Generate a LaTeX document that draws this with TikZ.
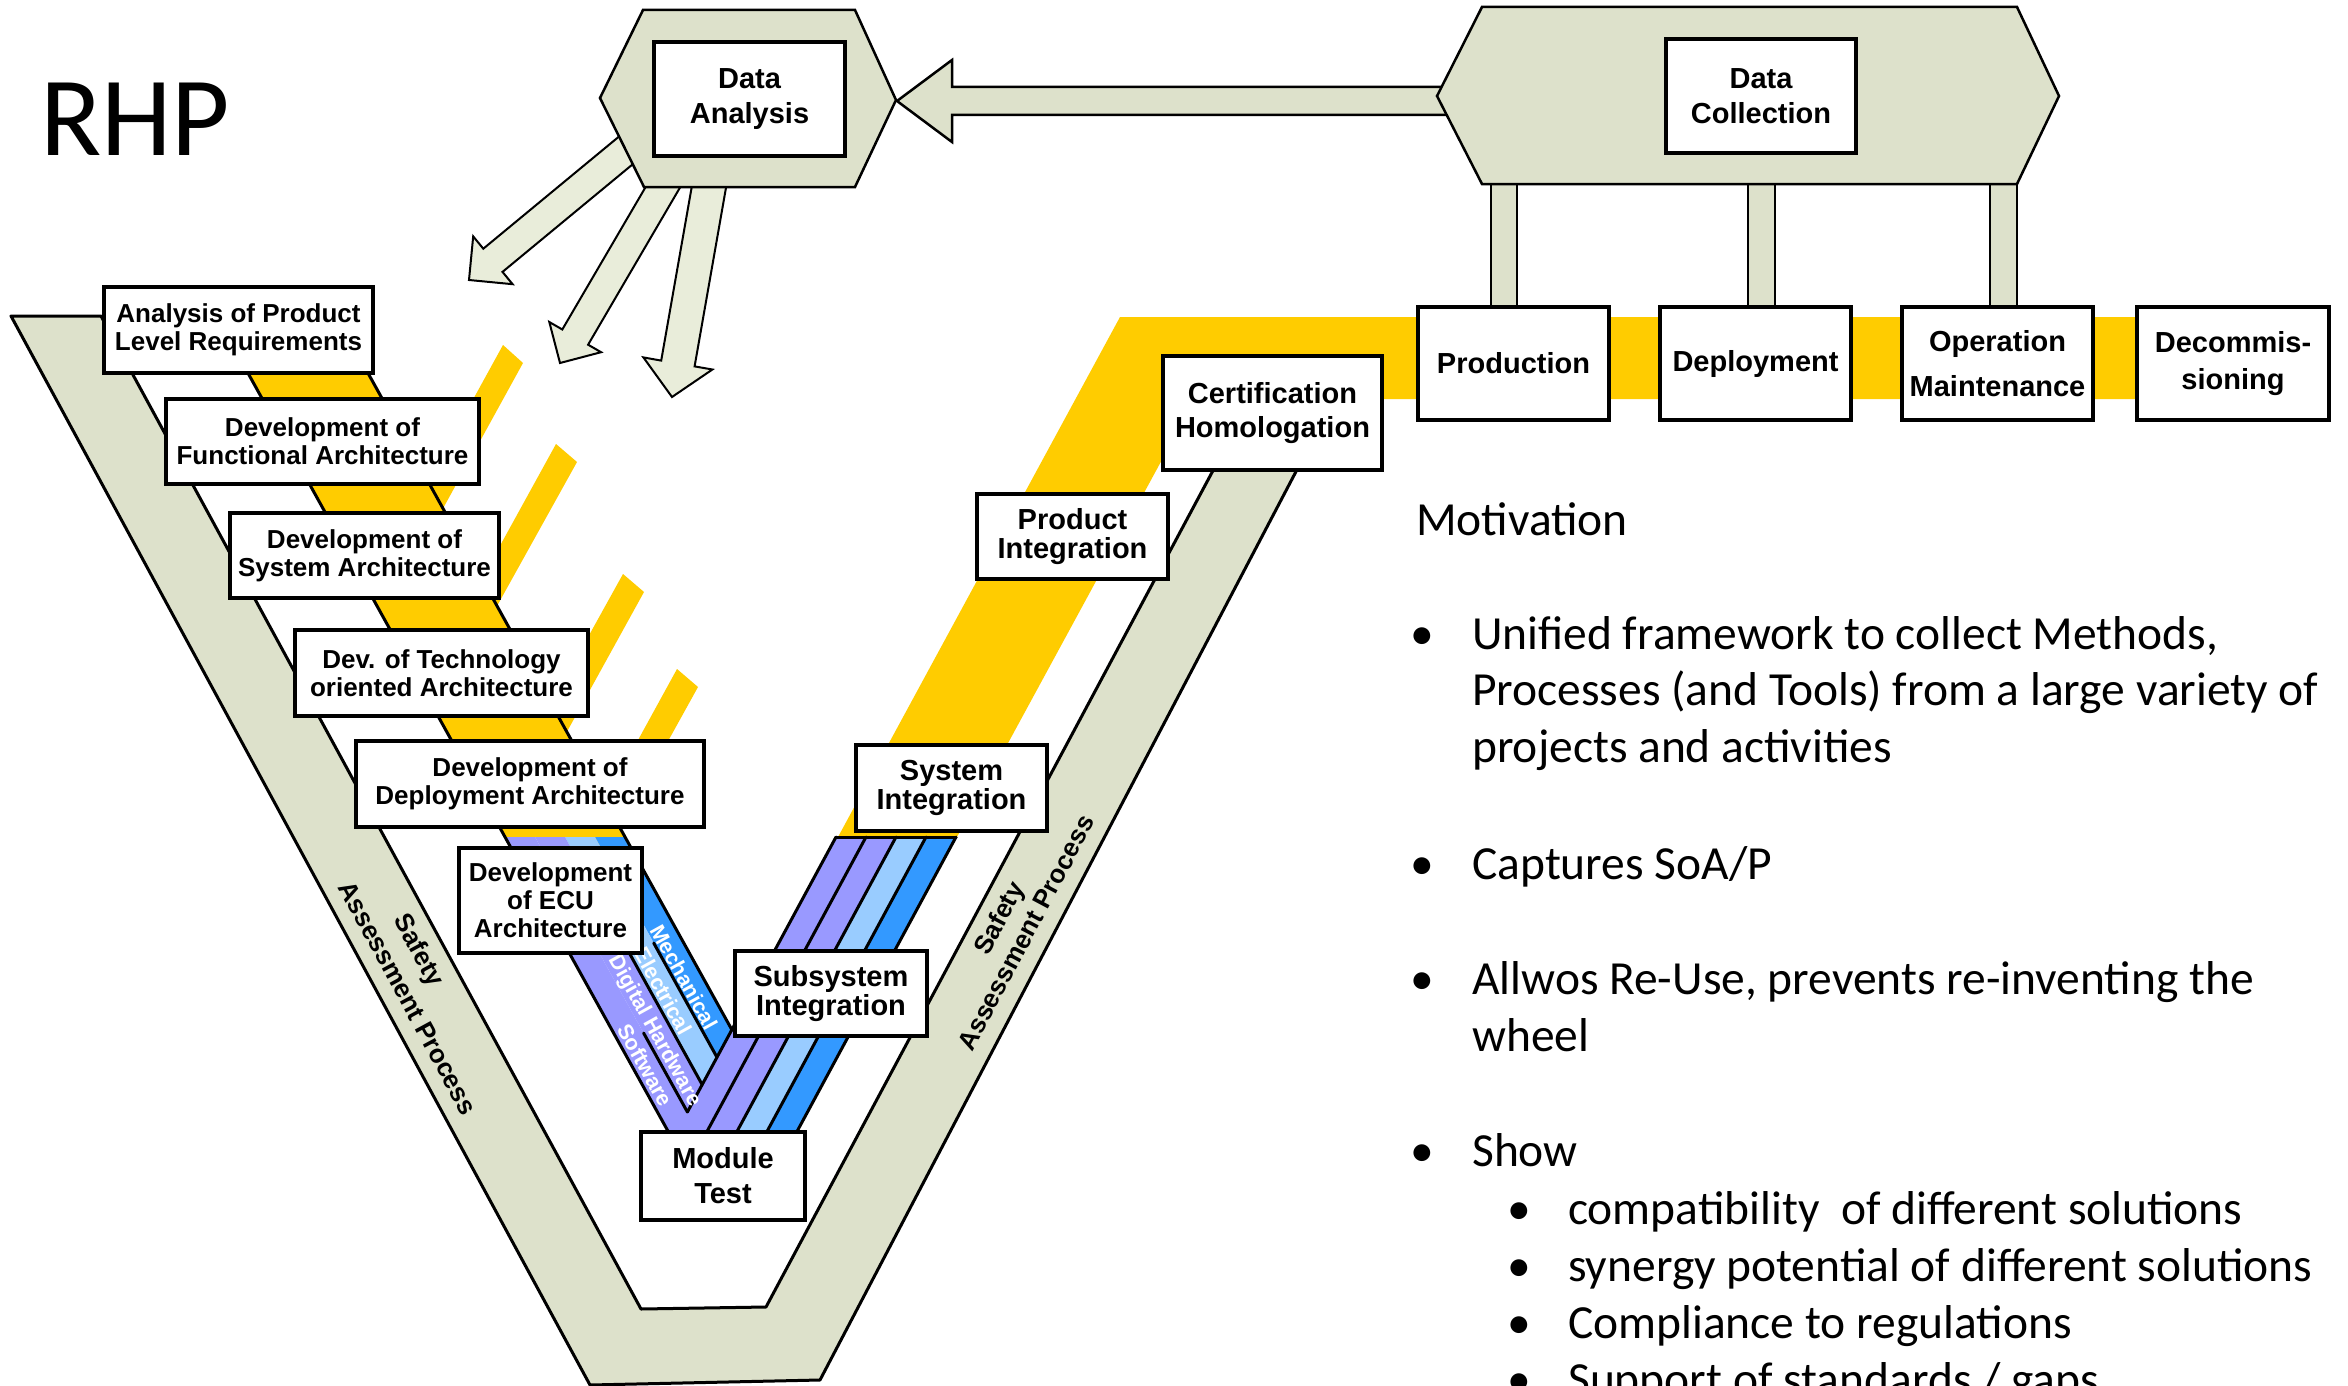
\documentclass[tikz,border=0pt]{standalone}
\usepackage{fontspec}
\newfontfamily\arial{Liberation Sans}
\newfontfamily\calibri{Carlito}
\usetikzlibrary{calc}

\definecolor{sage}{RGB}{221,225,203}
\definecolor{sagelight}{RGB}{233,237,218}
\definecolor{amber}{RGB}{255,204,0}
\definecolor{lanepurple}{RGB}{153,153,255}
\definecolor{lanesky}{RGB}{153,204,255}
\definecolor{laneblue}{RGB}{51,153,255}

\tikzset{
  stage/.style={draw=black, fill=white, line width=3.5pt, inner sep=0pt, outer sep=0pt, align=center, text=black},
  leftstage/.style={stage, font=\arial\bfseries\fontsize{26}{28}\selectfont},
  rightstage/.style={stage, font=\arial\bfseries\fontsize{29}{35}\selectfont},
  band/.style={fill=sage, draw=black, line width=3pt, line join=round},
  laneedge/.style={draw=black, line width=3pt, line cap=round},
  lanelabel/.style={text=white, font=\arial\bfseries\fontsize{21.5}{24}\selectfont, rotate=-61, inner sep=0pt},
  hexa/.style={fill=sage, draw=black, line width=2.5pt, line join=miter},
  feedarrow/.style={fill=sagelight, draw=black, line width=2pt, line join=miter},
  bigarrow/.style={fill=sage, draw=black, line width=2.5pt, line join=miter},
  stem/.style={fill=sage, draw=black, line width=2.5pt},
  safety/.style={font=\arial\bfseries\fontsize{26}{31}\selectfont, align=center, inner sep=0pt},
  body/.style={font=\calibri\fontsize{47.5}{57}\selectfont, anchor=base west, inner sep=0pt, text=black},
}

% stage box given by its corners: style, name, x1, y1, x2, y2, text
\newcommand{\stagenode}[7]{%
  \node[#1, minimum width={(#5-#3)*1pt}, minimum height={(#6-#4)*1pt}] (#2)
    at ({(#3+#5)/2},{(#4+#6)/2}) {#7};}

\begin{document}
\begin{tikzpicture}[x=1pt, y=-1pt]
\useasboundingbox (0,0) rectangle (2348,1386);
\fill[white] (0,0) rectangle (2348,1386);
\begin{scope}
\clip (0,0) rectangle (2348,1386);

% ---- safety assessment V band
\path[band] (11,316) -- (101,316) -- (641,1309) -- (766,1307) -- (1240,420)
  -- (1323,420) -- (820,1380) -- (590,1385) -- cycle;

% ---- short yellow bars branching from the left arm
\fill[amber] (503,345) -- (523,363) -- (413,563) -- (398,536) -- cycle;
\fill[amber] (556,444) -- (577,462) -- (467,660) -- (452,633) -- cycle;
\fill[amber] (623,574) -- (644,592) -- (537,786) -- (521,758) -- cycle;
\fill[amber] (677,669) -- (698,687) -- (590,882) -- (575,855) -- cycle;

% ---- yellow band of the right arm and the life cycle row
\fill[amber] (1120,317) -- (2250,317) -- (2250,399) -- (1195,399) -- (957,837) -- (838,837) -- cycle;

% ---- yellow band of the left arm
\fill[amber] (207.5,300) -- (327.5,300) -- (625,837) -- (505,837) -- cycle;

% ---- discipline lanes (mechanical, electrical, digital hardware, software)
\foreach \k/\col in {3/laneblue, 2/lanesky, 1/lanepurple, 0/lanepurple}{
  \pgfmathsetmacro{\d}{30*\k}
  \fill[\col] ({505+\d},837) -- ({687.8+\d},1167) -- ({866+\d},837)
    -- ({836+\d},837) -- ({687.4+\d},1112) -- ({535+\d},837) -- cycle;
}

% lane outlines on the right arm
\draw[laneedge] (836,837) -- (956,837);
\draw[laneedge] (687.4,1112) -- (836,837);
\foreach \j in {1,2,3,4}{
  \draw[laneedge] ({672.4+30*\j},1140) -- ({836+30*\j},837);
}
% outer edges of the left arm
\draw[laneedge] (207.5,300) -- (672.9,1140);
\draw[laneedge] (327.5,300) -- (732,1030);
% dividers of the left arm
\draw[laneedge] (653.7,943) -- (717,1057.3);
\draw[laneedge] (629.3,953) -- (702.2,1084.7);
\draw[laneedge] (643.6,1033) -- (687.4,1112);

% lane labels
\node[lanelabel] (mech) at (684,977) {Mechanical};
\node[lanelabel] (elec) at (663,991) {Electrical};
\node[lanelabel] (dhw)  at (654,1031) {Digital Hardware};
\node[lanelabel] (soft) at (645,1065) {Software};

% ---- feedback arrows from data analysis
\path[feedarrow] (636.7,121.9) -- (483.3,248.7) -- (473.2,236.4) -- (469,280)
  -- (512.6,284.2) -- (502.5,271.9) -- (655.9,145.1) -- cycle;
\path[feedarrow] (658.2,165.5) -- (562.3,329.5) -- (549.3,322) -- (560,363)
  -- (601.1,352.2) -- (588.1,344.7) -- (684,180.7) -- cycle;
\path[feedarrow] (698.6,147.8) -- (661.2,360.6) -- (643.4,357.4) -- (672,397)
  -- (712.4,369.5) -- (694.6,366.4) -- (732,153.6) -- cycle;

% ---- arrow from data collection to data analysis
\path[bigarrow] (897,101) -- (952,60) -- (952,87) -- (1470,87) -- (1470,115)
  -- (952,115) -- (952,142) -- cycle;

% ---- stems from data collection down to the life cycle phases
\path[stem] (1491,184) rectangle (1517,307);
\path[stem] (1748,184) rectangle (1775,307);
\path[stem] (1990,184) rectangle (2017,307);

% ---- hexagons
\path[hexa] (643,10) -- (855,10) -- (896,100) -- (855,187) -- (644,187) -- (600,98) -- cycle;
\path[hexa] (1482,7) -- (2017,7) -- (2059,96) -- (2017,184) -- (1482,184) -- (1437,96) -- cycle;

% ---- stage boxes
\stagenode{rightstage}{dana}{654}{42}{845}{156}{Data\\Analysis}
\stagenode{rightstage}{dcol}{1666}{39}{1856}{153}{Data\\Collection}

\stagenode{leftstage}{req}{104}{287}{373}{373}{Analysis of Product\\Level Requirements}
\stagenode{leftstage}{func}{166}{399}{479}{484}{Development of\\Functional Architecture}
\stagenode{leftstage}{sysa}{230}{513}{499}{598}{Development of\\System Architecture}
\stagenode{leftstage}{tech}{295}{630}{588}{716}{Dev. of Technology\\oriented Architecture}
\stagenode{leftstage}{depa}{356}{741}{704}{827}{Development of\\Deployment Architecture}
\stagenode{leftstage}{ecu}{459}{848}{642}{953}{Development\\of ECU\\Architecture}

\stagenode{rightstage}{modt}{641}{1132}{805}{1220}{Module\\Test}
\stagenode{rightstage, font=\arial\bfseries\fontsize{29}{29}\selectfont}{subi}{735}{951}{927}{1036}{Subsystem\\Integration}
\stagenode{rightstage, font=\arial\bfseries\fontsize{29}{29}\selectfont}{sysi}{856}{745}{1047}{831}{System\\Integration}
\stagenode{rightstage, font=\arial\bfseries\fontsize{29}{29}\selectfont}{prodi}{977}{494}{1168}{579}{Product\\Integration}
\stagenode{rightstage, font=\arial\bfseries\fontsize{29}{34}\selectfont}{cert}{1163}{356}{1382}{470}{Certification\\Homologation}

\stagenode{rightstage}{prodn}{1418}{307}{1609}{420}{Production}
\stagenode{rightstage}{depl}{1660}{307}{1851}{420}{Deployment}
\stagenode{rightstage, font=\arial\bfseries\fontsize{29}{45}\selectfont}{oper}{1902}{307}{2093}{420}{Operation\\Maintenance}
\stagenode{rightstage, font=\arial\bfseries\fontsize{29}{37}\selectfont}{decom}{2137}{307}{2329}{420}{Decommis-\\sioning}

% ---- safety labels along the band
\node[safety, rotate=-61.5] (safl1) at (418,951) {Safety};
\node[safety, rotate=-61.5] (safl2) at (408,998) {Assessment Process};
\node[safety, rotate=62] (safr) at (1012,925) {Safety\\Assessment Process};

% ---- title
\node[font=\calibri\fontsize{113}{113}\selectfont, anchor=base west, inner sep=0pt] (title) at (40,156) {RHP};

% ---- motivation text
\node[body] (mot) at (1416,535) {Motivation};
\node[body] (b1) at (1410,649) {•};
\node[body] (t1a) at (1472,649) {Unified framework to collect Methods,};
\node[body] (t1b) at (1472,705.5) {Processes (and Tools) from a large variety of};
\node[body] (t1c) at (1472,762) {projects and activities};
\node[body] (b2) at (1410,879) {•};
\node[body] (t2) at (1472,879) {Captures SoA/P};
\node[body] (b3) at (1410,994) {•};
\node[body] (t3a) at (1472,994) {Allwos Re-Use, prevents re-inventing the};
\node[body] (t3b) at (1472,1051) {wheel};
\node[body] (b4) at (1410,1166) {•};
\node[body] (t4) at (1472,1166) {Show};
\node[body] (s1) at (1507,1224) {•};
\node[body] (u1) at (1568,1224) {compatibility\ \ of different solutions};
\node[body] (s2) at (1507,1281) {•};
\node[body] (u2) at (1568,1281) {synergy potential of different solutions};
\node[body] (s3) at (1507,1338) {•};
\node[body] (u3) at (1568,1338) {Compliance to regulations};
\node[body] (s4) at (1507,1395) {•};
\node[body] (u4) at (1568,1395) {Support of standards / gaps};
\end{scope}
\end{tikzpicture}
\end{document}
